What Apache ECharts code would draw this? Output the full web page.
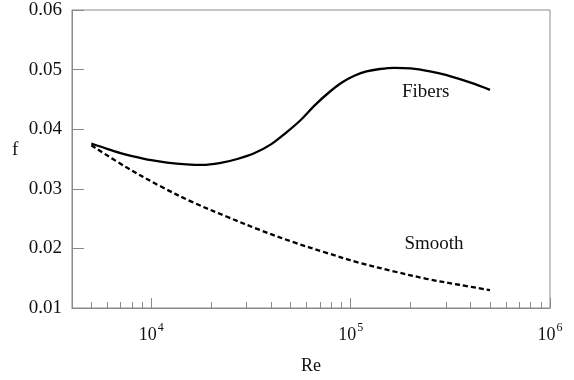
<!DOCTYPE html>
<html>
<head>
<meta charset="utf-8">
<script src="https://cdn.jsdelivr.net/npm/echarts@6/dist/echarts.min.js"></script>
<style>
  html, body { margin: 0; padding: 0; background: #fff; }
  #chart { width: 574px; height: 380px; }
</style>
</head>
<body>
<div id="chart"></div>
<script>
// Friction factor f versus Reynolds number, fibre-laden vs smooth flow
const reFibers = [5000, 6000, 7000, 8000, 10000, 12000, 15000, 18000, 22000, 27000,
                  33000, 40000, 47000, 56000, 66000, 78000, 90000, 105000, 120000, 140000,
                  165000, 200000, 250000, 300000, 400000, 500000];
const fFibers  = [0.0376, 0.0367, 0.0360, 0.0355, 0.0348, 0.0344, 0.0341, 0.0340, 0.0343, 0.0350,
                  0.0360, 0.0375, 0.0393, 0.0415, 0.0440, 0.0462, 0.0478, 0.0490, 0.0497, 0.0501,
                  0.0503, 0.0502, 0.0497, 0.0491, 0.0478, 0.0466];

const reSmooth = [5000, 7500, 11000, 16000, 24000, 35000, 51000, 75000, 110000, 162000,
                  240000, 350000, 500000];
const fSmooth  = [0.0373, 0.0336, 0.0305, 0.0278, 0.0253, 0.0231, 0.0211, 0.0193, 0.0176, 0.0162,
                  0.0149, 0.0139, 0.0130];

const majorTicks = [10000, 100000, 1000000];
const minorTicks = [5000, 6000, 7000, 8000, 9000,
                    20000, 30000, 40000, 50000, 60000, 70000, 80000, 90000,
                    200000, 300000, 400000, 500000, 600000, 700000, 800000, 900000];

const curveLabels = [
  { name: 'Fibers', coord: [238000, 0.0462] },
  { name: 'Smooth', coord: [262000, 0.0207] }
];

const FONT = 'Liberation Serif';
const TEXT = '#111111';
const AXIS_GREY = '#8a8a8a';

function toPairs(xs, ys) { return xs.map((x, i) => [x, ys[i]]); }

const chart = echarts.init(document.getElementById('chart'), null, { renderer: 'canvas' });

const baseLogAxis = {
  type: 'log',
  logBase: 10,
  min: 4000,
  max: 1000000,
  gridIndex: 0,
  position: 'bottom',
  splitLine: { show: false },
  minorTick: { show: false },
  minorSplitLine: { show: false }
};

chart.setOption({
  backgroundColor: '#ffffff',
  animation: false,
  grid: {
    left: 72, top: 10, right: 24, bottom: 71,
    show: true, borderColor: AXIS_GREY, borderWidth: 1, backgroundColor: 'transparent'
  },
  xAxis: [
    Object.assign({}, baseLogAxis, {
      name: 'Re',
      nameLocation: 'middle',
      nameGap: 49,
      nameTextStyle: { fontFamily: FONT, fontSize: 18, color: TEXT },
      axisLine: { show: true, lineStyle: { color: AXIS_GREY, width: 1 } },
      axisTick: { show: true, inside: true, length: 10, customValues: majorTicks,
                  lineStyle: { color: AXIS_GREY, width: 1 } },
      axisLabel: {
        show: true,
        margin: 14,
        customValues: majorTicks,
        formatter: function (v) {
          const p = Math.round(Math.log10(v));
          return '{b|10}{s|' + p + '}';
        },
        rich: {
          b: { fontFamily: FONT, fontSize: 18, color: TEXT, lineHeight: 22, verticalAlign: 'bottom' },
          s: { fontFamily: FONT, fontSize: 12, color: TEXT, lineHeight: 22, verticalAlign: 'top', padding: [0, 0, 0, 1] }
        }
      }
    }),
    Object.assign({}, baseLogAxis, {
      axisLine: { show: false },
      axisTick: { show: true, inside: true, length: 6, customValues: minorTicks,
                  lineStyle: { color: AXIS_GREY, width: 1 } },
      axisLabel: { show: false }
    })
  ],
  yAxis: {
    type: 'value',
    min: 0.01,
    max: 0.06,
    interval: 0.01,
    splitLine: { show: false },
    axisLine: { show: true, lineStyle: { color: AXIS_GREY, width: 1 } },
    axisTick: { show: true, inside: true, length: 12, lineStyle: { color: AXIS_GREY, width: 1 } },
    axisLabel: {
      margin: 10,
      fontFamily: FONT,
      fontSize: 19,
      color: TEXT,
      formatter: function (v) { return v.toFixed(2); }
    }
  },
  graphic: [
    { type: 'text', left: 12, top: 141,
      style: { text: 'f', font: '19px "Liberation Serif"', fill: TEXT } }
  ],
  series: [
    {
      name: 'Fibers',
      type: 'line',
      xAxisIndex: 0,
      data: toPairs(reFibers, fFibers),
      smooth: 0.35,
      showSymbol: false,
      lineStyle: { color: '#000', width: 2.3, type: 'solid' },
      markPoint: {
        symbol: 'circle',
        symbolSize: 0,
        label: { show: true, position: 'inside', formatter: '{b}',
                 fontFamily: FONT, fontSize: 19, color: TEXT },
        data: [curveLabels[0]]
      }
    },
    {
      name: 'Smooth',
      type: 'line',
      xAxisIndex: 0,
      data: toPairs(reSmooth, fSmooth),
      smooth: 0.35,
      showSymbol: false,
      lineStyle: { color: '#000', width: 2.3, type: [5, 3] },
      markPoint: {
        symbol: 'circle',
        symbolSize: 0,
        label: { show: true, position: 'inside', formatter: '{b}',
                 fontFamily: FONT, fontSize: 19, color: TEXT },
        data: [curveLabels[1]]
      }
    }
  ]
});
</script>
</body>
</html>
